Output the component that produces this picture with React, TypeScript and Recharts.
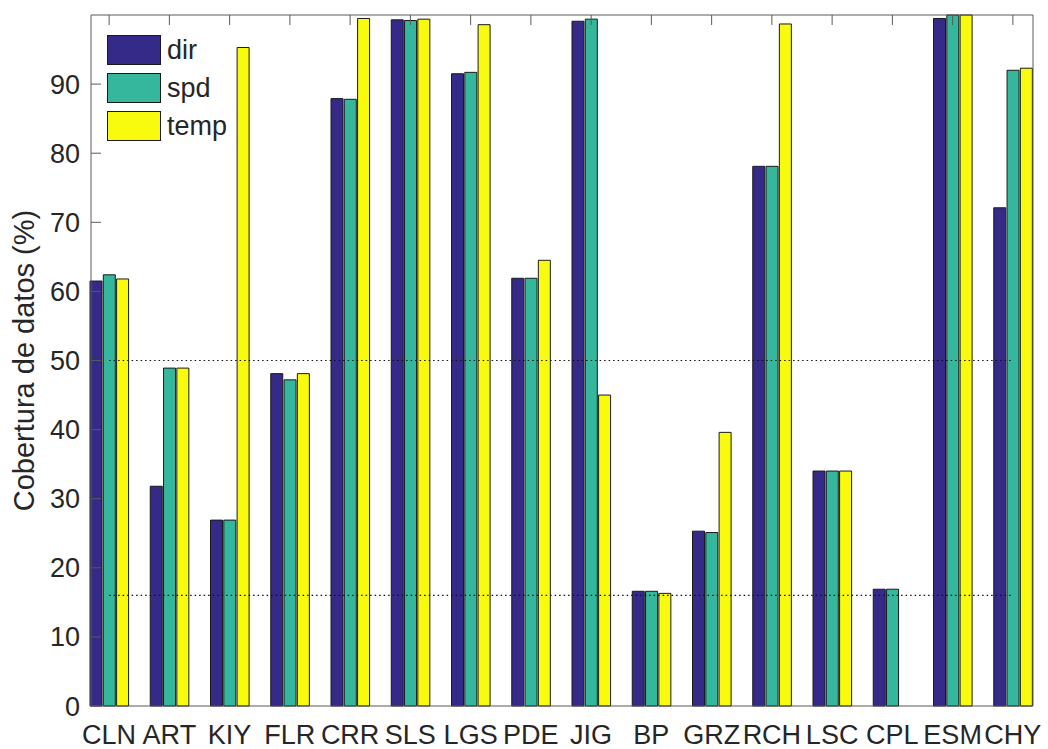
import { BarChart, Bar, XAxis, YAxis, Legend, ReferenceLine } from 'recharts'

const stations = ['CLN', 'ART', 'KIY', 'FLR', 'CRR', 'SLS', 'LGS', 'PDE', 'JIG', 'BP', 'GRZ', 'RCH', 'LSC', 'CPL', 'ESM', 'CHY']
const dirCoverage = [61.5, 31.8, 26.9, 48.1, 87.9, 99.3, 91.5, 61.9, 99.1, 16.6, 25.3, 78.1, 34.0, 16.9, 99.5, 72.1]
const spdCoverage = [62.4, 48.9, 26.9, 47.2, 87.8, 99.2, 91.7, 61.9, 99.4, 16.6, 25.1, 78.1, 34.0, 16.9, 100, 92.0]
const tempCoverage = [61.8, 48.9, 95.3, 48.1, 99.5, 99.4, 98.6, 64.5, 45.0, 16.3, 39.6, 98.7, 34.0, 0, 100, 92.3]
const yTicks = [0, 10, 20, 30, 40, 50, 60, 70, 80, 90]
const thresholds = [50, 16]

const FONT = '"Liberation Sans", Arial, Helvetica, sans-serif'
const AXIS = '#5a5a5a'
const TEXT = '#262626'
const EDGE = '#1a1a1a'

const data = stations.map((name, i) => ({
  name,
  dir: dirCoverage[i],
  spd: spdCoverage[i],
  temp: tempCoverage[i],
}))

function LegendBox({ payload }: any) {
  return (
    <div style={{ fontFamily: FONT }}>
      {(payload || []).map((entry: any) => (
        <div key={entry.value} style={{ display: 'flex', alignItems: 'center', height: 38 }}>
          <div style={{ width: 52, height: 28, background: entry.color, border: `1px solid ${EDGE}`, marginRight: 6 }} />
          <span style={{ fontSize: 27, color: TEXT, lineHeight: 1 }}>{entry.value}</span>
        </div>
      ))}
    </div>
  )
}

// rotated axis title, centred on the plot height
function YLabel({ viewBox }: any) {
  const cx = viewBox.x + 24
  const cy = viewBox.y + viewBox.height / 2
  return (
    <text
      x={cx}
      y={cy}
      transform={`rotate(-90, ${cx}, ${cy})`}
      textAnchor="middle"
      dominantBaseline="central"
      fontSize={29}
      fontFamily={FONT}
      fill={TEXT}
    >
      Cobertura de datos (%)
    </text>
  )
}

export default function App() {
  return (
    <div style={{ width: 1048, height: 749, background: '#fff' }}>
      <style>{'body{margin:0}'}</style>
      <BarChart
        width={1048}
        height={749}
        data={data}
        margin={{ top: 14, right: 14, bottom: 0, left: 0 }}
        barSize={12}
        barGap={1.3}
      >
        <XAxis
          dataKey="name"
          padding={{ left: -12, right: -10 }}
          height={43}
          stroke={AXIS}
          tickLine={false}
          tickSize={0}
          tickMargin={19}
          interval={0}
          tick={{ fontSize: 27, fontFamily: FONT, fill: TEXT }}
        />
        <XAxis
          xAxisId="top"
          orientation="top"
          dataKey="name"
          padding={{ left: -12, right: -10 }}
          height={1}
          stroke={AXIS}
          tickSize={-10}
          interval={0}
          tick={() => <g />}
        />
        <YAxis
          domain={[0, 100]}
          ticks={yTicks}
          width={91}
          stroke={AXIS}
          tickSize={-10}
          tickMargin={21}
          tick={{ fontSize: 27, fontFamily: FONT, fill: TEXT }}
          label={{ content: (props: any) => <YLabel {...props} /> }}
        />
        <YAxis
          yAxisId="right"
          orientation="right"
          domain={[0, 100]}
          width={1}
          stroke={AXIS}
          tickLine={false}
          tick={false}
        />
        <Legend
          layout="vertical"
          verticalAlign="middle"
          align="center"
          wrapperStyle={{ top: 31, left: 107, width: 'auto', height: 'auto' }}
          content={(props: any) => <LegendBox {...props} />}
        />
        <Bar dataKey="dir" name="dir" fill="#352a87" stroke={EDGE} strokeWidth={1} isAnimationActive={false} />
        <Bar dataKey="spd" name="spd" fill="#35b79d" stroke={EDGE} strokeWidth={1} isAnimationActive={false} />
        <Bar dataKey="temp" name="temp" fill="#f9fb0e" stroke={EDGE} strokeWidth={1} isAnimationActive={false} />
        {thresholds.map((t) => (
          <ReferenceLine
            key={t}
            segment={[
              { x: stations[0], y: t },
              { x: stations[stations.length - 1], y: t },
            ]}
            stroke="#111"
            strokeWidth={1.2}
            strokeDasharray="1.5 3"
          />
        ))}
      </BarChart>
    </div>
  )
}
